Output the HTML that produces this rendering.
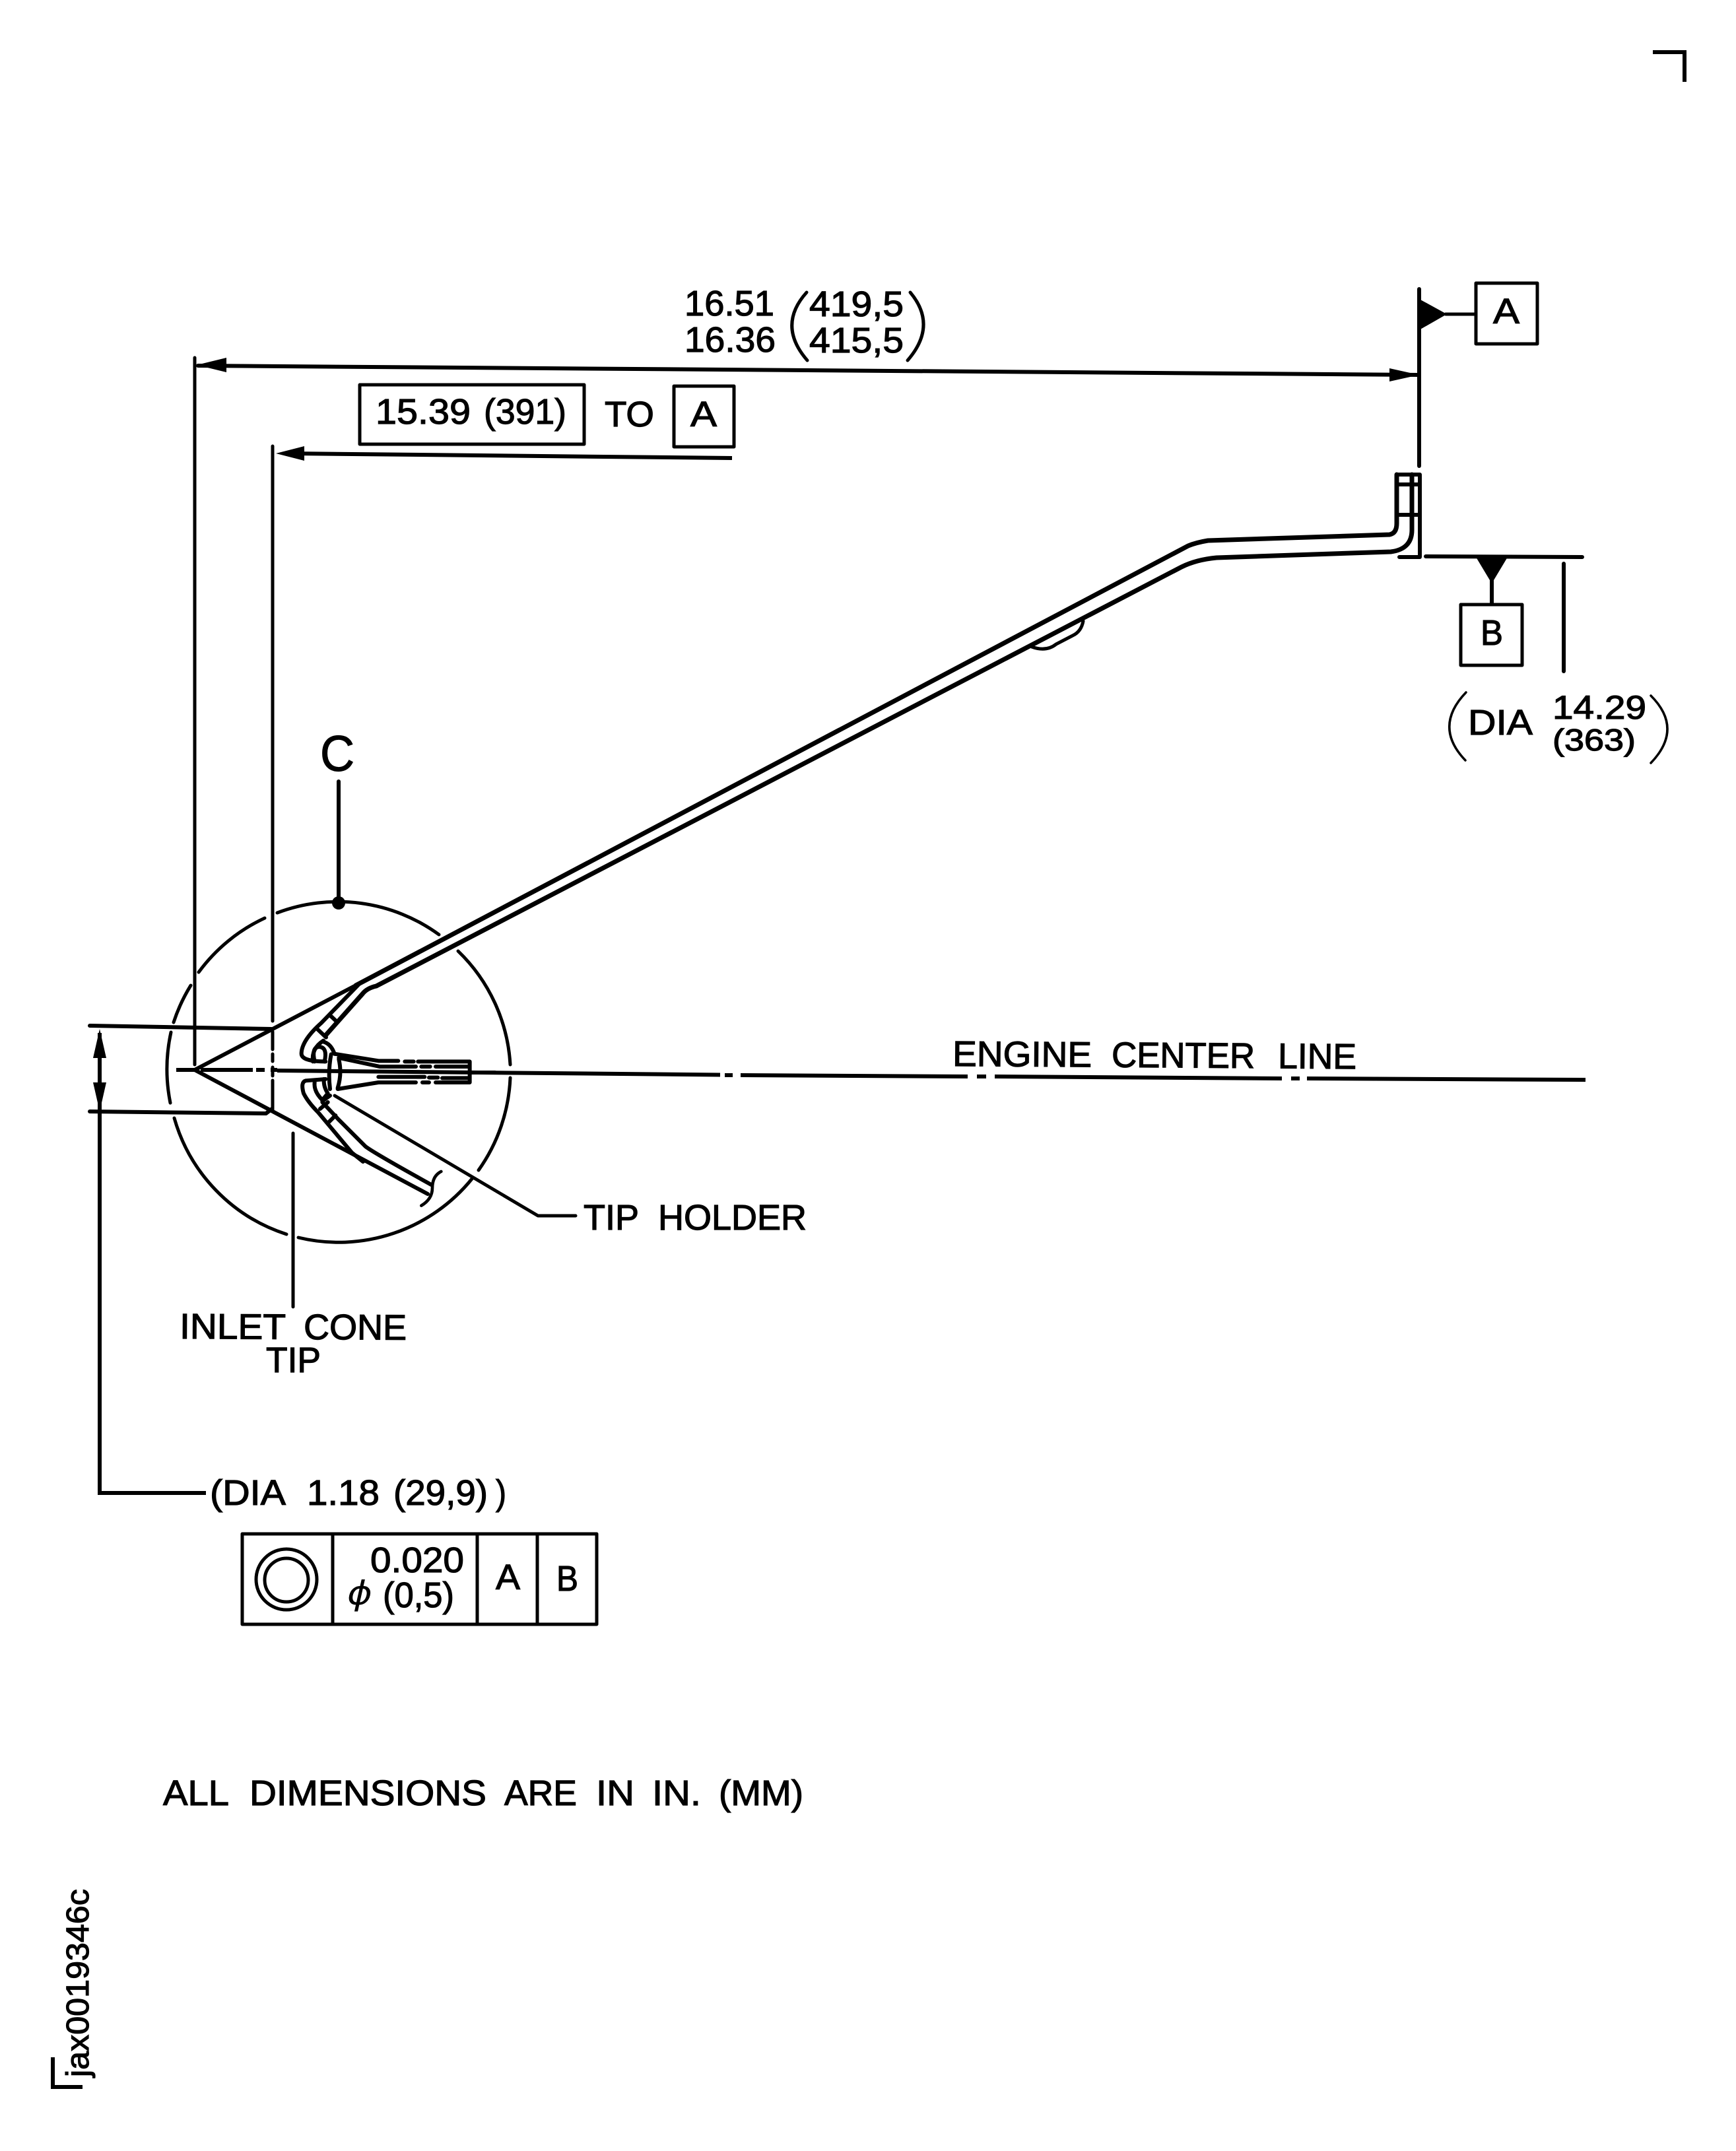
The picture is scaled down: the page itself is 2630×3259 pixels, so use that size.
<!DOCTYPE html>
<html><head><meta charset="utf-8"><style>
html,body{margin:0;padding:0;background:#fff}
svg{display:block}
text{font-family:"Liberation Sans",sans-serif;fill:#000;font-size:54px;stroke:#000;stroke-width:1.2}
.l{fill:none;stroke:#000;stroke-width:6;stroke-linecap:round;stroke-linejoin:round}
.t{fill:none;stroke:#000;stroke-width:5;stroke-linecap:round;stroke-linejoin:round}
.f{fill:#000;stroke:none}
</style></head><body>
<svg xmlns="http://www.w3.org/2000/svg" width="2630" height="3259" viewBox="0 0 2630 3259">
<rect width="2630" height="3259" fill="#fff"/>

<!-- corner marks -->
<path class="l" style="stroke-linecap:butt;stroke-linejoin:miter" d="M2504,79 H2552 V124"/>
<path class="l" style="stroke-linecap:butt;stroke-linejoin:miter" d="M80,3117 V3162 H125"/>
<text transform="translate(134,3147) rotate(-90)" style="font-size:48px" textLength="285" lengthAdjust="spacingAndGlyphs">jax0019346c</text>

<!-- top dimension -->
<text x="1037" y="478" textLength="136" lengthAdjust="spacingAndGlyphs">16.51</text>
<text x="1037" y="533" textLength="138" lengthAdjust="spacingAndGlyphs">16.36</text>
<text x="1226" y="479" textLength="143" lengthAdjust="spacingAndGlyphs">419,5</text>
<text x="1226" y="534" textLength="143" lengthAdjust="spacingAndGlyphs">415,5</text>
<path class="t" d="M1222,443 Q1177,493 1223,546"/>
<path class="t" d="M1379,443 Q1421,493 1375,546"/>

<!-- extension lines -->
<path class="t" d="M295,542 V1613"/>
<path class="t" d="M413,676 V1547 M413,1563 V1590 M413,1597 V1608 M413,1617 V1630 M413,1637 V1683"/>
<path class="l" d="M300,554 L2149,568"/>
<path class="f" d="M298,553 L343,542 L343,564 Z"/>
<path class="f" d="M2150,568 L2105,558 L2105,578 Z"/>

<!-- 15.39 box -->
<rect class="t" x="545" y="583" width="340" height="90"/>
<text x="569" y="642" textLength="144" lengthAdjust="spacingAndGlyphs">15.39</text>
<text x="733" y="642" textLength="125" lengthAdjust="spacingAndGlyphs">(391)</text>
<text x="916" y="646" textLength="75" lengthAdjust="spacingAndGlyphs">TO</text>
<rect class="t" x="1021" y="585" width="91" height="92"/>
<text x="1046" y="646" textLength="40" lengthAdjust="spacingAndGlyphs">A</text>
<path class="l" style="stroke-linecap:butt" d="M440,687 L1109,694"/>
<path class="f" d="M418,687 L461,676 L461,698 Z"/>

<!-- datum A -->
<path class="l" d="M2150,438 V706"/>
<path class="f" d="M2150,453 L2192,476 L2150,500 Z"/>
<path class="t" d="M2190,476 H2236"/>
<rect class="t" x="2236" y="429" width="93" height="92"/>
<text x="2262" y="490" textLength="40" lengthAdjust="spacingAndGlyphs">A</text>

<!-- datum B -->
<path class="l" d="M2160,843 L2397,844"/>
<path class="f" d="M2236,844 L2284,844 L2260,884 Z"/>
<path class="l" style="stroke-linecap:butt" d="M2260,875 V916"/>
<rect class="t" x="2213" y="916" width="93" height="92"/>
<text x="2243" y="977" textLength="34" lengthAdjust="spacingAndGlyphs">B</text>
<path class="l" d="M2369,854 V1017"/>

<!-- DIA 14.29 -->
<path class="t" style="stroke-width:3.5" d="M2221,1049 Q2171,1101 2220,1152"/>
<path class="t" style="stroke-width:3.5" d="M2501,1054 Q2551,1104 2501,1156"/>
<text x="2224" y="1113" textLength="98" lengthAdjust="spacingAndGlyphs">DIA</text>
<text x="2352" y="1089" textLength="142" lengthAdjust="spacingAndGlyphs" style="font-size:50px">14.29</text>
<text x="2352" y="1137" textLength="126" lengthAdjust="spacingAndGlyphs" style="font-size:46px">(363)</text>

<!-- probe -->
<path class="l" style="stroke-width:7" d="M539,1493 L1800,827 Q1812,822 1830,819 L2105,810 Q2116,808 2116,793 V719"/>
<path class="l" style="stroke-width:7" d="M493,1569 L549,1506 Q556,1497 570,1494 L1500,1010 L1790,859 Q1812,848 1843,845 L2107,836 Q2139,832 2139,803 V719"/>
<path class="l" d="M2116,719 H2151 V844 H2120 M2118,734 H2151 M2118,780 H2151"/>
<path class="t" d="M1563,980 Q1585,988 1600,976 L1625,963 Q1638,957 1641,941"/>

<!-- center lines -->
<path class="l" style="stroke-linecap:butt" d="M267,1621 H295 M304,1621 H383 M388,1621 H401 M410,1621 H420 M420,1622 L1091,1628.5 M1098,1629 L1110,1629 M1122,1629 L1466,1631 M1480,1631 L1494,1631 M1507,1631 L1942,1634 M1956,1634 L1969,1634 M1980,1634 L2402,1636"/>
<g transform="rotate(0.4 1448 1615)">
<text x="1443" y="1615" textLength="211" lengthAdjust="spacingAndGlyphs">ENGINE</text>
<text x="1684" y="1615" textLength="217" lengthAdjust="spacingAndGlyphs">CENTER</text>
<text x="1936" y="1615" textLength="119" lengthAdjust="spacingAndGlyphs">LINE</text>
</g>

<!-- cone -->
<path class="l" d="M295,1621 L539,1493"/>
<path class="l" d="M295,1621 L648,1809"/>

<!-- tip detail, coordinates in a 3x space -->
<g transform="translate(400,1480) scale(0.3333)">
<g fill="none" stroke="#000" stroke-width="18" stroke-linecap="round" stroke-linejoin="round">
<path d="M430,35 L260,210 Q170,290 170,350 Q172,385 280,385"/>
<path d="M270,290 Q215,325 222,385"/>
<path d="M230,385 Q215,320 250,318 Q290,320 275,385"/>
<path d="M245,240 L282,275 M300,175 L332,205"/>
<path d="M270,295 Q305,305 320,350"/>
<path d="M320,350 L520,382 H610 M640,385 H680 M700,385 H935 V480 H780 M750,480 H720 M690,480 H520 L335,510"/>
<path d="M340,368 L525,408 H690 M715,408 H755 M780,408 H925"/>
<path d="M940,435 H1050"/>
<path d="M520,455 H730 M750,458 H790 M810,460 H925"/>
<path d="M305,352 Q290,430 300,510"/>
<path d="M340,375 Q355,440 335,505"/>
<path d="M280,465 L190,472 Q165,478 180,530 Q200,570 245,615 L400,800 L450,840"/>
<path d="M230,480 Q225,520 265,560 L290,530 Q270,500 272,465"/>
<path d="M265,570 L340,650 L460,770 Q490,795 760,945"/>
<path d="M255,600 L290,570 M290,665 L325,630"/>
<path d="M300,540 L265,565"/>
<path stroke-width="14" d="M805,885 Q765,905 765,960 Q765,1010 715,1040"/>
</g>
</g>

<!-- leader -->
<path class="t" d="M507,1660 L815,1842 H872"/>
<text x="884" y="1863" textLength="84" lengthAdjust="spacingAndGlyphs">TIP</text>
<text x="997" y="1863" textLength="225" lengthAdjust="spacingAndGlyphs">HOLDER</text>

<!-- C circle -->
<g style="fill:none;stroke:#000;stroke-width:5;stroke-linecap:round">
<path d="M420,1383 A260,260 0 0 1 665,1416"/>
<path d="M694,1441 A260,260 0 0 1 773,1613"/>
<path d="M773,1633 A260,260 0 0 1 725,1773"/>
<path d="M715,1786 A260,260 0 0 1 452,1875"/>
<path d="M434,1870 A260,260 0 0 1 264,1694"/>
<path d="M258,1671 A260,260 0 0 1 259,1564"/>
<path d="M263,1549 A260,260 0 0 1 289,1493"/>
<path d="M301,1473 A260,260 0 0 1 401,1391"/>
</g>
<circle cx="513" cy="1368" r="10" fill="#000"/>
<path class="l" d="M513,1184 V1368"/>
<text x="485" y="1168" textLength="52" lengthAdjust="spacingAndGlyphs" style="font-size:76px">C</text>

<!-- inlet cone -->
<path class="t" d="M444,1717 V1980"/>
<g transform="rotate(0.3 276 2029)">
<text x="272" y="2028" textLength="161" lengthAdjust="spacingAndGlyphs">INLET</text>
<text x="460" y="2028" textLength="156" lengthAdjust="spacingAndGlyphs">CONE</text>
</g>
<text x="403" y="2079" textLength="83" lengthAdjust="spacingAndGlyphs">TIP</text>

<!-- small diameter dimension -->
<path class="l" d="M136,1554 L411,1559 M136,1684 L403,1687 L412,1680"/>
<path class="l" style="stroke-linecap:butt;stroke-linejoin:miter" d="M151,1565 V2262 H312"/>
<path class="f" d="M151,1559 L161,1603 L141,1603 Z"/>
<path class="f" d="M151,1684 L141,1640 L161,1640 Z"/>
<text x="318" y="2280" textLength="115" lengthAdjust="spacingAndGlyphs">(DIA</text>
<text x="465" y="2280" textLength="110" lengthAdjust="spacingAndGlyphs">1.18</text>
<text x="596" y="2280" textLength="143" lengthAdjust="spacingAndGlyphs">(29,9)</text>
<text x="751" y="2280" textLength="16" lengthAdjust="spacingAndGlyphs">)</text>

<!-- feature control frame -->
<rect class="t" x="367" y="2324" width="537" height="137"/>
<path class="t" d="M504,2324 V2461 M723,2324 V2461 M814,2324 V2461"/>
<circle cx="434" cy="2393" r="46" fill="none" stroke="#000" stroke-width="5"/>
<circle cx="434" cy="2394" r="33" fill="none" stroke="#000" stroke-width="5"/>
<text x="561" y="2382" textLength="142" lengthAdjust="spacingAndGlyphs">0.020</text>
<text x="526" y="2431" style="font-size:50px;font-style:italic;font-family:'DejaVu Sans',sans-serif;stroke:none" textLength="38" lengthAdjust="spacingAndGlyphs">ϕ</text>
<text x="580" y="2435" textLength="108" lengthAdjust="spacingAndGlyphs">(0,5)</text>
<text x="751" y="2408" textLength="37" lengthAdjust="spacingAndGlyphs">A</text>
<text x="843" y="2410" textLength="33" lengthAdjust="spacingAndGlyphs">B</text>

<!-- note -->
<text x="247" y="2735" textLength="100" lengthAdjust="spacingAndGlyphs">ALL</text>
<text x="378" y="2735" textLength="359" lengthAdjust="spacingAndGlyphs">DIMENSIONS</text>
<text x="764" y="2735" textLength="110" lengthAdjust="spacingAndGlyphs">ARE</text>
<text x="903" y="2735" textLength="58" lengthAdjust="spacingAndGlyphs">IN</text>
<text x="988" y="2735" textLength="74" lengthAdjust="spacingAndGlyphs">IN.</text>
<text x="1089" y="2735" textLength="128" lengthAdjust="spacingAndGlyphs">(MM)</text>
</svg>
</body></html>
